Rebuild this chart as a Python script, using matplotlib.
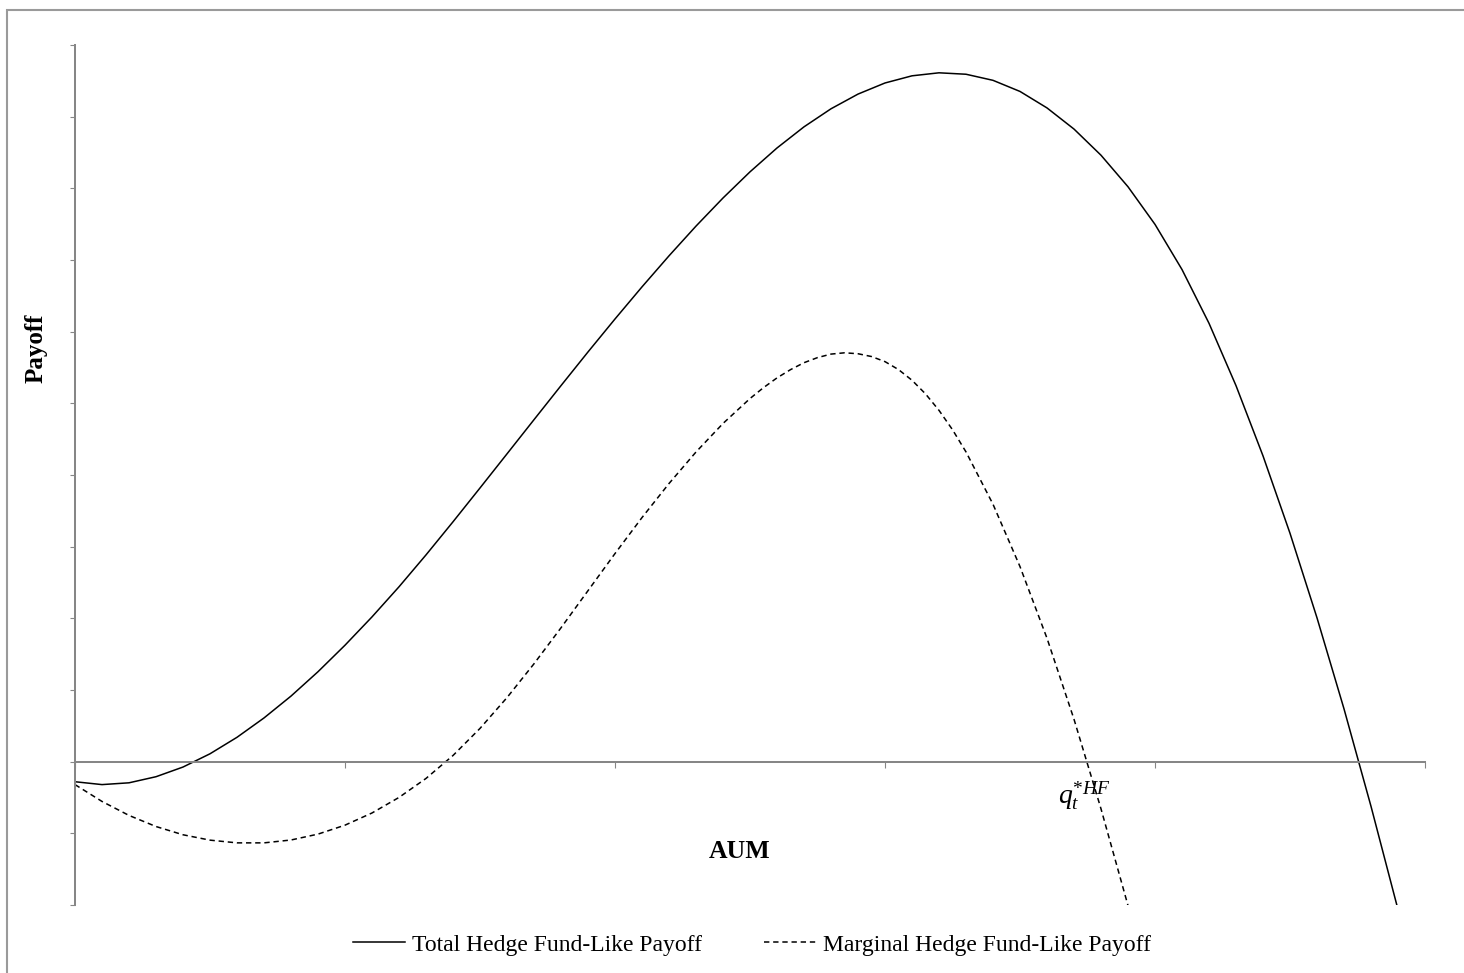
import matplotlib
matplotlib.use("Agg")
import matplotlib.pyplot as plt
from matplotlib.patches import Rectangle

plt.rcParams['font.family'] = ['Liberation Serif', 'DejaVu Serif']
plt.rcParams['mathtext.fontset'] = 'custom'
plt.rcParams['mathtext.rm'] = 'Liberation Serif'
plt.rcParams['mathtext.it'] = 'Liberation Serif:italic'

# values (AUM units 0..5, payoff units -2..10)
total_aum = [0.0, 0.1, 0.2, 0.3, 0.4, 0.5, 0.6, 0.7, 0.8, 0.9,
             1.0, 1.1, 1.2, 1.3, 1.4, 1.5, 1.6, 1.7, 1.8, 1.9,
             2.0, 2.1, 2.2, 2.3, 2.4, 2.5, 2.6, 2.7, 2.8, 2.9,
             3.0, 3.1, 3.2, 3.3, 3.4, 3.5, 3.6, 3.7, 3.8, 3.9,
             4.0, 4.1, 4.2, 4.3, 4.4, 4.5, 4.6, 4.7, 4.8, 4.9]
total_payoff = [-0.28, -0.32, -0.295, -0.21, -0.075, 0.11, 0.34, 0.61, 0.915, 1.255,
                1.625, 2.02, 2.44, 2.885, 3.347, 3.819, 4.295, 4.772, 5.247, 5.717,
                6.177, 6.625, 7.058, 7.473, 7.865, 8.230, 8.563, 8.858, 9.110, 9.315,
                9.470, 9.570, 9.612, 9.592, 9.507, 9.352, 9.122, 8.827, 8.462, 8.022,
                7.497, 6.867, 6.117, 5.247, 4.267, 3.187, 2.007, 0.737, -0.623, -2.063]

marginal_aum = [0.0, 0.1, 0.2, 0.3, 0.4, 0.5, 0.6, 0.7, 0.8, 0.9,
                1.0, 1.1, 1.2, 1.3, 1.4, 1.5, 1.6, 1.7, 1.8, 1.9,
                2.0, 2.1, 2.2, 2.3, 2.4, 2.5, 2.55, 2.6, 2.65, 2.7, 2.75, 2.8, 2.85,
                2.9, 2.95, 3.0, 3.05, 3.1, 3.15, 3.2, 3.25, 3.3, 3.4, 3.5, 3.6,
                3.7, 3.8, 3.9]
marginal_payoff = [-0.32, -0.555, -0.75, -0.905, -1.02, -1.095, -1.133, -1.133, -1.093, -1.011,
                   -0.886, -0.716, -0.499, -0.234, 0.086, 0.464, 0.894, 1.366, 1.868, 2.386,
                   2.904, 3.406, 3.881, 4.321, 4.719, 5.067, 5.219, 5.355, 5.47, 5.567, 5.638,
                   5.687, 5.705, 5.692, 5.653, 5.582, 5.471, 5.322, 5.132, 4.902, 4.632,
                   4.322, 3.592, 2.722, 1.722, 0.592, -0.658, -2.008]

x_ticks = [0, 1, 2, 3, 4, 5]
y_ticks = list(range(-2, 11))

W, H = 1464, 973
fig = plt.figure(figsize=(W / 100, H / 100), dpi=100)
ax = fig.add_axes([75 / W, 1 - 905 / H, (1425 - 75) / W, (905 - 45) / H])

axis_grey = '#868686'
ax.plot(total_aum, total_payoff, color='black', lw=1.1, label='Total Hedge Fund-Like Payoff')
ax.plot(marginal_aum, marginal_payoff, color='black', lw=1.1,
        dashes=(3.5, 2.5), label='Marginal Hedge Fund-Like Payoff')

ax.set_xlim(0, 5)
ax.set_ylim(-2, 10)
ax.set_xticks(x_ticks)
ax.set_yticks(y_ticks)
ax.set_xticklabels([])
ax.set_yticklabels([])

for s in ['top', 'right']:
    ax.spines[s].set_visible(False)
ax.spines['bottom'].set_position(('data', 0))
for s in ['left', 'bottom']:
    ax.spines[s].set_color(axis_grey)
    ax.spines[s].set_linewidth(1.45)
ax.tick_params(axis='x', direction='out', length=4.5, width=0.8, color=axis_grey)
ax.tick_params(axis='y', direction='out', length=3.6, width=0.8, color=axis_grey)

fig.text(36 / W, 1 - 348 / H, 'Payoff', rotation=90, ha='center', va='center',
         fontsize=18, fontweight='bold')
fig.text(740 / W, 1 - 851 / H, 'AUM', ha='center', va='center',
         fontsize=18.5, fontweight='bold')

ax.text(3.641, -0.58, r'$q_t^{*HF}$', fontsize=20, ha='left', va='baseline')

fig.legend(loc='center', bbox_to_anchor=(752 / W, 1 - 945 / H), ncol=2,
           frameon=False, fontsize=17, handlelength=2.2, handletextpad=0.3,
           columnspacing=2.6)

fig.add_artist(Rectangle((7 / W, -0.1), 1.2, 0.1 + 1 - 10 / H, transform=fig.transFigure,
                         fill=False, edgecolor='#9a9a9a', lw=1.5, clip_on=False))

fig.savefig('out.png', dpi=100)
